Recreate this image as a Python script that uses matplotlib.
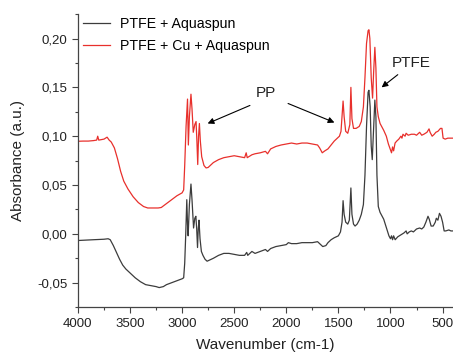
import matplotlib
matplotlib.use("Agg")
import matplotlib.pyplot as plt
from matplotlib.ticker import MultipleLocator, FuncFormatter

plt.rcParams['font.family'] = ['Liberation Sans', 'DejaVu Sans']

# PTFE + Aquaspun
wn_black = [4000, 3950, 3900, 3850, 3800, 3750, 3710, 3690, 3660, 3630, 3600, 3570,
            3540, 3500, 3450, 3400, 3350, 3300, 3250, 3220, 3180, 3150, 3100, 3050,
            3000, 2985, 2975, 2965, 2955, 2948, 2942, 2930, 2915, 2905, 2890, 2878,
            2868, 2860, 2852, 2845, 2838, 2828, 2815, 2800, 2780, 2760, 2740, 2700,
            2650, 2600, 2550, 2500, 2450, 2400, 2380, 2370, 2330, 2300, 2250, 2200,
            2180, 2150, 2100, 2050, 2000, 1980, 1950, 1900, 1850, 1800, 1750, 1700,
            1680, 1650, 1620, 1600, 1570, 1540, 1500, 1480, 1465, 1455, 1445, 1430,
            1410, 1395, 1380, 1370, 1355, 1340, 1320, 1300, 1280, 1260, 1245, 1230,
            1215, 1207, 1195, 1185, 1175, 1165, 1150, 1140, 1130, 1117, 1100, 1080,
            1065, 1050, 1030, 1015, 1000, 990, 980, 970, 955, 930, 900, 870, 850, 840,
            820, 800, 780, 750, 720, 700, 680, 660, 640, 628, 610, 590, 570, 560, 545,
            530, 515, 500, 485, 470, 440, 420, 400]
abs_black = [-0.0068, -0.0065, -0.0062, -0.006, -0.0058, -0.0055, -0.005, -0.006, -0.012,
             -0.019, -0.026, -0.032, -0.036, -0.040, -0.045, -0.049, -0.052, -0.053,
             -0.054, -0.055, -0.054, -0.052, -0.050, -0.048, -0.046, -0.045, -0.030,
             0.000, 0.035, 0.010, -0.002, 0.030, 0.051, 0.035, 0.006, 0.016, 0.018,
             0.005, -0.014, 0.005, 0.014, -0.005, -0.018, -0.022, -0.026, -0.028, -0.027,
             -0.025, -0.022, -0.020, -0.020, -0.021, -0.022, -0.022, -0.019, -0.022,
             -0.018, -0.020, -0.018, -0.016, -0.018, -0.015, -0.013, -0.012, -0.011,
             -0.009, -0.010, -0.010, -0.009, -0.009, -0.009, -0.008, -0.010, -0.013,
             -0.012, -0.009, -0.006, -0.004, -0.002, 0.002, 0.012, 0.034, 0.020, 0.012,
             0.010, 0.014, 0.047, 0.020, 0.010, 0.008, 0.010, 0.014, 0.020, 0.030, 0.060,
             0.110, 0.145, 0.147, 0.130, 0.090, 0.076, 0.100, 0.137, 0.120, 0.060, 0.028,
             0.022, 0.018, 0.015, 0.010, 0.003, -0.002, -0.005, -0.002, -0.006, -0.002,
             -0.006, -0.003, -0.001, 0.001, 0.003, 0.000, 0.002, 0.003, 0.002, 0.005,
             0.006, 0.005, 0.007, 0.012, 0.018, 0.015, 0.008, 0.008, 0.012, 0.016, 0.014,
             0.021, 0.018, 0.012, 0.003, 0.003, 0.004, 0.003, 0.003]

# PTFE + Cu + Aquaspun
wn_red = [4000, 3950, 3900, 3850, 3820, 3810, 3800, 3750, 3720, 3700, 3680, 3650, 3620,
          3590, 3560, 3520, 3470, 3420, 3370, 3330, 3280, 3230, 3200, 3150, 3100, 3050,
          3000, 2985, 2975, 2962, 2948, 2940, 2930, 2915, 2905, 2893, 2878, 2866, 2858,
          2850, 2842, 2834, 2825, 2812, 2790, 2770, 2750, 2720, 2700, 2650, 2600, 2550,
          2500, 2450, 2400, 2385, 2375, 2330, 2300, 2250, 2200, 2180, 2150, 2100, 2050,
          2000, 1950, 1900, 1850, 1800, 1750, 1700, 1680, 1655, 1630, 1600, 1570, 1540,
          1510, 1490, 1475, 1465, 1455, 1445, 1430, 1410, 1390, 1380, 1370, 1355, 1330,
          1300, 1280, 1260, 1245, 1230, 1215, 1207, 1198, 1185, 1172, 1162, 1150, 1140,
          1130, 1117, 1100, 1085, 1065, 1040, 1020, 1000, 990, 980, 970, 956, 940, 920,
          900, 890, 880, 860, 850, 830, 800, 770, 750, 720, 700, 680, 650, 630, 620,
          600, 580, 565, 545, 520, 506, 495, 475, 450, 420, 400]
abs_red = [0.0948, 0.095, 0.095, 0.0955, 0.096, 0.100, 0.096, 0.097, 0.099, 0.096, 0.094,
           0.088, 0.077, 0.064, 0.054, 0.046, 0.038, 0.032, 0.028, 0.0265, 0.0265, 0.0265,
           0.027, 0.031, 0.035, 0.039, 0.042, 0.045, 0.070, 0.110, 0.138, 0.091, 0.120,
           0.143, 0.128, 0.104, 0.112, 0.115, 0.095, 0.071, 0.100, 0.113, 0.095, 0.079,
           0.070, 0.0675, 0.068, 0.071, 0.073, 0.076, 0.078, 0.079, 0.080, 0.079, 0.078,
           0.083, 0.078, 0.081, 0.082, 0.083, 0.0845, 0.082, 0.087, 0.0895, 0.091, 0.092,
           0.093, 0.092, 0.093, 0.093, 0.092, 0.091, 0.088, 0.083, 0.085, 0.087, 0.091,
           0.095, 0.098, 0.100, 0.105, 0.120, 0.136, 0.120, 0.105, 0.103, 0.112, 0.150,
           0.118, 0.108, 0.108, 0.110, 0.115, 0.130, 0.160, 0.195, 0.208, 0.209, 0.200,
           0.160, 0.139, 0.165, 0.191, 0.170, 0.130, 0.120, 0.113, 0.110, 0.106, 0.100,
           0.092, 0.086, 0.083, 0.089, 0.085, 0.093, 0.095, 0.097, 0.100, 0.098, 0.102,
           0.100, 0.103, 0.101, 0.102, 0.102, 0.101, 0.104, 0.101, 0.102, 0.104, 0.1075,
           0.104, 0.100, 0.102, 0.104, 0.105, 0.108, 0.108, 0.098, 0.097, 0.098, 0.098,
           0.098]

labels = ["PTFE + Aquaspun", "PTFE + Cu + Aquaspun"]

fig = plt.figure(figsize=(4.53, 3.53), dpi=100)
ax = fig.add_axes([0.172, 0.130, 0.828, 0.830])

ax.plot(wn_black, abs_black, color='#3c3c3c', lw=0.9, label=labels[0])
ax.plot(wn_red, abs_red, color='#e8302c', lw=0.9, label=labels[1])

ax.set_xlim(4000, 400)
ax.set_ylim(-0.075, 0.225)

ax.xaxis.set_major_locator(MultipleLocator(500))
ax.xaxis.set_minor_locator(MultipleLocator(250))
ax.yaxis.set_major_locator(MultipleLocator(0.05))
ax.yaxis.set_minor_locator(MultipleLocator(0.025))
ax.yaxis.set_major_formatter(FuncFormatter(lambda v, p: f"{v:.2f}".replace('.', ',').replace('-0,00', '0,00')))

for s in ['top', 'right']:
    ax.spines[s].set_visible(False)
for s in ['left', 'bottom']:
    ax.spines[s].set_color('#444444')
    ax.spines[s].set_linewidth(0.9)
ax.tick_params(which='major', length=4, width=0.8, color='#444444', labelsize=9.5, labelcolor='#222222')
ax.tick_params(which='minor', length=2.5, width=0.8, color='#444444')

ax.set_xlabel("Wavenumber (cm-1)", fontsize=11, color='#222222', labelpad=6)
ax.set_ylabel("Absorbance (a.u.)", fontsize=11, color='#222222', labelpad=9)

leg = ax.legend(loc='upper left', bbox_to_anchor=(-0.006, 1.015), frameon=False, fontsize=10.2,
                handlelength=1.9, handletextpad=0.7, labelspacing=0.55, borderpad=0)

arrow = dict(arrowstyle='-|>', color='black', lw=0.8, mutation_scale=9, shrinkA=0, shrinkB=0)
ax.annotate("", xy=(2755, 0.113), xytext=(2349, 0.1315), arrowprops=arrow)
ax.annotate("", xy=(1538, 0.114), xytext=(1983, 0.1335), arrowprops=arrow)
ax.text(2195, 0.1445, "PP", fontsize=11, ha='center', va='center', color='#222222')
ax.annotate("", xy=(1085, 0.150), xytext=(930, 0.163), arrowprops=arrow)
ax.text(798, 0.175, "PTFE", fontsize=11, ha='center', va='center', color='#222222')

fig.savefig("out.png", dpi=100)
